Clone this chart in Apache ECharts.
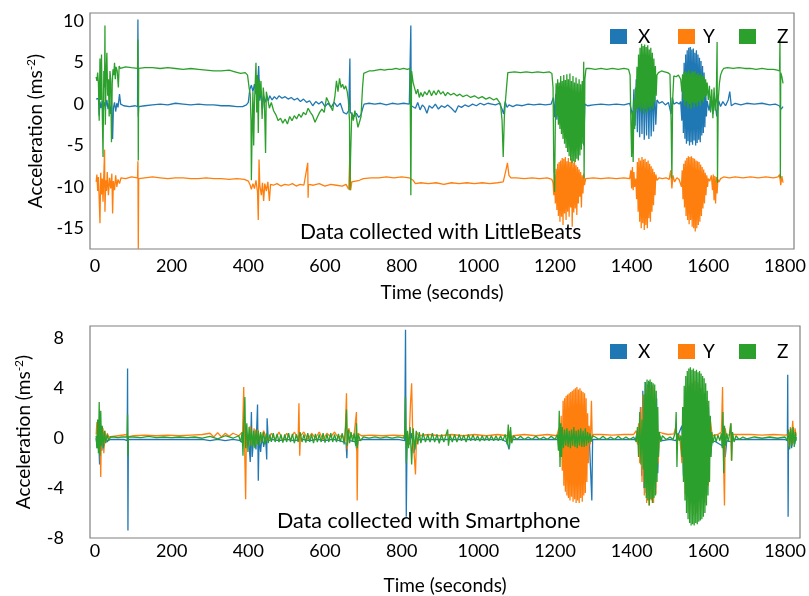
<!DOCTYPE html>
<html>
<head>
<meta charset="utf-8">
<script src="https://cdn.jsdelivr.net/npm/echarts@6.0.0/dist/echarts.min.js"></script>
<style>
  html, body { margin: 0; padding: 0; background: #fff; }
  #main { width: 809px; height: 596px; }
</style>
</head>
<body>
<div id="main"></div>
<script>
// tick labels
var timeTicks = [0, 200, 400, 600, 800, 1000, 1200, 1400, 1600, 1800];
var lbTicks = [-15, -10, -5, 0, 5, 10];
var spTicks = [-8, -4, 0, 4, 8];

// LittleBeats, [time (s), acceleration]
var lbX = [[3,0.6],[6,0.4],[9,0.7],[11,-1.4],[13,0.3],[16,-0.5],[19,0.4],[22,-0.8],[25,0.2],[28,-0.3],[31,0.5],[34,-0.6],[37,0.1],[40,-1.2],[43,0.3],[46,-4.2],[48,-0.5],[51,0.2],[54,-0.9],[57,0.1],[60,-0.4],[64,1.2],[67,0.0],
  [75,-0.2],[90,-0.3],[105,-0.2],[111,-0.3],[112,10.2],[113,-1.5],[114,-0.3],[130,-0.2],[150,-0.1],[170,0.0],[190,-0.1],[210,0.1],[230,0.0],[250,-0.1],[270,0.0],[290,-0.1],[310,-0.1],[330,-0.2],[350,-0.2],[370,-0.3],[385,-0.3],[395,-0.1],[400,0.2],
  [404,1.8],[408,2.3],[412,1.5],[416,2.4],[420,1.2],[424,2.0],[427,4.6],[430,0.4],[433,1.6],[437,-0.6],[440,1.0],[444,0.2],[448,0.9],[452,0.4],[456,1.0],[462,0.5],[468,0.9],[474,0.6],[480,1.0],[488,0.7],[496,0.9],[504,0.6],[512,0.8],[520,0.5],[528,0.7],[536,0.3],[544,0.6],[552,0.2],[560,0.4],[568,-0.2],[576,0.3],[584,0.0],[592,0.3],[600,-0.3],[608,0.1],[616,-0.4],[624,0.2],[632,-0.3],[640,0.1],[648,-1.0],[656,-1.2],[662,-0.8],[665,5.5],[666,-1.0],[670,-1.2],[676,-1.5],[682,-1.1],[688,-1.6],[694,-1.3],[698,-0.6],
  [702,0.0],[715,0.1],[730,0.0],[745,0.1],[760,-0.1],[775,0.1],[790,0.0],[805,0.1],[820,0.0],[824,9.5],[825,-0.2],[830,0.0],[836,-0.5],[842,0.2],[848,-0.7],[854,-0.1],[860,-0.4],[866,-1.1],[872,-0.2],[880,-0.5],[888,0.0],[896,-0.6],[904,-0.2],[912,-0.4],[920,-0.1],[930,-0.5],[940,-1.0],[948,-0.2],[956,-0.4],[965,-0.1],[975,-0.3],[985,0.0],[995,-0.2],[1005,0.1],[1015,-0.1],[1025,0.1],[1035,0.0],[1045,-0.1],[1055,0.1],[1062,-0.6],[1066,-1.2],[1070,0.3],[1075,-0.4],[1080,-0.1],[1090,-0.3],[1100,-0.1],[1115,-0.2],[1130,0.0],[1145,-0.1],[1160,0.0],[1175,-0.1],[1190,0.0],
  [1196,0.8],[1199,-1.6],[1202,1.2],[1205,-1.9],[1208,0.9],[1211,-2.3],[1214,0.4],[1218,-1.5],[1222,0.6],[1226,-1.0],[1230,0.8],[1234,-0.9],[1238,0.5],[1242,-1.2],[1246,0.6],[1250,-0.8],[1254,0.4],[1258,-1.1],[1262,0.5],[1266,-0.7],[1270,0.3],[1275,-5.0],[1278,0.0],
  [1285,-0.2],[1300,-0.1],[1320,0.0],[1340,-0.1],[1360,0.0],[1380,-0.1],[1395,0.1],
  [1400,0.2],[1403,-1.5],[1406,1.8],[1409,-2.6],[1412,3.0],[1415,-3.4],[1418,3.5],[1421,-4.0],[1424,3.8],[1427,-3.6],[1430,4.2],[1433,-4.3],[1436,3.6],[1439,-3.8],[1442,4.0],[1445,-4.2],[1448,3.4],[1451,-3.9],[1454,3.0],[1457,-3.3],[1460,2.4],[1463,-2.5],[1466,0.5],
  [1472,0.1],[1480,0.3],[1488,-0.1],[1496,0.2],[1503,-1.2],[1506,0.8],[1510,0.0],[1518,0.2],[1524,0.0],
  [1528,0.3],[1531,-2.0],[1533,3.5],[1535,-3.5],[1537,5.0],[1539,-4.2],[1541,6.0],[1543,-4.8],[1545,6.5],[1547,-4.5],[1549,6.8],[1551,-5.0],[1553,6.9],[1555,-4.6],[1557,6.6],[1559,-4.9],[1561,6.7],[1563,-4.4],[1565,6.2],[1567,-5.0],[1569,6.5],[1571,-4.7],[1573,6.0],[1575,-4.3],[1577,5.6],[1579,-4.6],[1581,5.2],[1583,-3.8],[1585,4.6],[1587,-3.5],[1589,3.8],[1591,-2.8],[1593,2.5],[1595,-1.5],[1597,0.4],
  [1602,-0.8],[1607,0.9],[1612,-1.2],[1617,0.6],[1622,-1.5],[1627,0.4],[1632,-0.3],[1638,0.3],[1645,-0.2],[1652,0.5],[1656,1.5],[1660,-0.2],[1670,0.1],[1685,-0.1],[1700,0.1],[1720,0.0],[1740,0.1],[1760,-0.1],[1775,0.0],[1785,-0.2],[1790,-0.6],[1795,-0.3]];

var lbY = [[3,-9.4],[5,-8.5],[7,-10.5],[9,-8.8],[11,-11.5],[13,-14.4],[15,-8.3],[17,-10.9],[19,-9.0],[21,-11.8],[23,-8.6],[25,-5.5],[26,-13.0],[28,-9.2],[30,-10.5],[32,-8.2],[35,-11.0],[38,-8.9],[41,-10.2],[44,-8.4],[46,-13.2],[48,-9.3],[51,-10.4],[54,-8.6],[57,-10.0],[60,-9.1],[64,-9.6],[68,-8.9],
  [80,-9.0],[95,-8.8],[111,-8.9],[112,-6.9],[113,-17.5],[114,-9.0],[130,-8.9],[150,-8.8],[170,-8.9],[190,-9.0],[210,-8.9],[230,-8.9],[250,-9.0],[270,-9.0],[290,-8.9],[310,-9.0],[330,-9.0],[350,-9.1],[370,-9.0],[390,-9.1],[400,-9.3],
  [405,-9.8],[408,-10.3],[412,-9.6],[416,-10.2],[420,-9.2],[424,-10.6],[426,-14.0],[428,-6.7],[430,-9.8],[434,-11.0],[437,-9.5],[440,-11.7],[443,-9.6],[447,-10.5],[451,-9.4],[455,-11.7],[458,-9.7],[465,-9.8],[475,-9.6],[485,-9.9],[495,-9.7],[505,-9.8],[515,-9.6],[525,-9.9],[535,-9.7],[545,-9.8],[555,-7.1],[556,-11.3],[557,-9.7],[570,-9.8],[585,-9.6],[600,-9.9],[615,-9.7],[630,-9.8],[645,-9.9],[655,-9.7],[662,-10.3],[665,-5.9],[667,-10.4],[670,-9.4],[680,-9.3],[690,-9.2],
  [700,-9.0],[720,-8.9],[740,-8.9],[760,-8.8],[780,-8.9],[800,-8.8],[820,-8.9],[830,-9.2],[836,-9.6],[850,-9.5],[870,-9.6],[890,-9.5],[910,-9.7],[930,-9.5],[950,-9.6],[970,-9.5],[990,-9.6],[1010,-9.5],[1030,-9.6],[1050,-9.5],[1065,-9.4],[1072,-8.0],[1076,-7.1],[1080,-8.6],[1085,-8.9],[1100,-8.9],[1120,-9.0],[1140,-8.9],[1160,-9.0],[1180,-8.9],[1192,-9.1],
  [1195,-9.5],[1197,-11.0],[1199,-8.5],[1201,-12.0],[1203,-7.8],[1205,-12.8],[1207,-7.2],[1209,-13.5],[1211,-7.0],[1213,-14.2],[1215,-6.8],[1217,-13.6],[1219,-6.5],[1221,-14.6],[1223,-6.6],[1225,-13.2],[1227,-6.4],[1229,-14.0],[1231,-6.9],[1233,-13.0],[1235,-6.5],[1237,-13.6],[1239,-7.0],[1241,-12.5],[1243,-6.6],[1245,-14.8],[1247,-7.1],[1249,-13.1],[1251,-6.8],[1253,-12.6],[1255,-7.4],[1257,-13.4],[1259,-7.6],[1261,-12.0],[1263,-7.9],[1265,-11.2],[1267,-8.2],[1269,-12.5],[1271,-8.6],[1273,-10.8],[1275,-8.4],[1277,-9.8],
  [1280,-9.0],[1300,-8.9],[1320,-9.0],[1340,-8.9],[1360,-9.0],[1380,-8.9],[1395,-9.0],
  [1398,-8.0],[1400,-10.2],[1402,-7.6],[1404,-10.4],[1406,-8.2],[1408,-10.0],[1411,-9.0],[1413,-11.5],[1415,-7.0],[1417,-13.0],[1419,-6.5],[1421,-14.2],[1423,-6.8],[1425,-15.0],[1427,-6.4],[1429,-14.4],[1431,-6.7],[1433,-15.2],[1435,-6.6],[1437,-14.6],[1439,-7.0],[1441,-15.0],[1443,-6.8],[1445,-13.8],[1447,-7.2],[1449,-14.2],[1451,-7.5],[1453,-13.0],[1455,-7.8],[1457,-12.2],[1459,-8.2],[1461,-11.0],[1463,-8.5],[1466,-9.2],
  [1472,-8.9],[1480,-9.0],[1490,-8.9],[1498,-9.1],[1502,-8.0],[1505,-10.2],[1508,-8.6],[1512,-9.4],[1518,-8.9],[1524,-9.1],[1528,-9.0],
  [1530,-10.0],[1532,-8.0],[1534,-11.5],[1536,-7.2],[1538,-12.5],[1540,-6.8],[1542,-13.5],[1544,-6.5],[1546,-14.0],[1548,-6.3],[1550,-14.5],[1552,-6.4],[1554,-14.0],[1556,-6.3],[1558,-14.8],[1560,-6.5],[1562,-15.0],[1564,-6.6],[1566,-15.4],[1568,-6.8],[1570,-15.0],[1572,-6.9],[1574,-14.6],[1576,-7.0],[1578,-14.2],[1580,-7.3],[1582,-13.5],[1584,-7.6],[1586,-12.6],[1588,-7.9],[1590,-12.0],[1592,-8.3],[1594,-11.0],[1596,-8.6],[1598,-10.0],[1600,-9.0],
  [1604,-9.3],[1608,-8.6],[1611,-10.4],[1613,-8.5],[1615,-11.6],[1617,-8.7],[1619,-12.0],[1621,-8.8],[1623,-10.8],[1625,-9.1],[1628,-9.4],[1632,-9.0],[1640,-8.8],[1655,-8.9],[1670,-8.8],[1690,-8.9],[1710,-8.8],[1730,-8.9],[1750,-8.8],[1770,-8.9],[1782,-8.8],[1786,-8.5],[1789,-9.8],[1792,-8.7],[1795,-9.5]];

var lbZ = [[3,3.3],[5,2.8],[7,3.8],[9,2.5],[11,-2.0],[13,5.5],[15,0.5],[17,6.0],[19,-1.0],[21,-6.4],[23,4.0],[25,2.0],[26,9.5],[27,-2.5],[29,3.5],[31,6.2],[33,1.0],[35,3.0],[37,-1.5],[39,4.0],[41,3.0],[43,-4.6],[45,2.5],[47,4.2],[49,3.5],[51,5.0],[53,3.0],[55,4.5],[58,4.0],[61,2.0],[63,4.6],[66,4.3],
  [70,4.4],[80,4.5],[95,4.4],[111,4.3],[112,7.8],[113,-6.8],[114,4.3],[130,4.4],[150,4.4],[170,4.3],[190,4.4],[210,4.3],[230,4.2],[250,4.3],[270,4.2],[290,4.1],[310,4.0],[330,4.0],[350,4.1],[365,3.9],[380,3.7],[392,3.8],[398,3.5],
  [402,2.0],[405,1.2],[407,-2.0],[408,-9.2],[410,-3.0],[412,1.5],[414,-5.0],[416,0.0],[418,2.5],[420,5.0],[422,-1.0],[424,3.5],[426,-3.5],[428,3.0],[430,1.0],[433,2.8],[436,-1.8],[439,2.0],[442,0.5],[445,-5.9],[447,1.5],[450,0.8],[455,-0.5],[460,0.2],[466,-0.8],[472,-1.3],[478,-2.0],[484,-1.7],[490,-2.3],[496,-1.8],[502,-2.4],[508,-1.5],[514,-2.0],[520,-1.4],[526,-1.8],[532,-1.2],[538,-1.6],[544,-1.0],[550,-1.3],[556,-0.5],[562,-1.0],[568,-1.4],[574,-2.2],[580,-1.6],[586,-1.0],[592,-0.6],[598,-1.0],[604,0.8],[610,0.2],[616,-0.4],
  [620,-0.8],[626,1.0],[630,2.8],[634,1.5],[638,3.1],[642,2.0],[646,2.4],[650,1.8],[654,2.2],[658,1.5],[661,0.5],[664,-2.0],[665,-10.4],[667,-5.9],[670,-1.0],[674,-2.0],[678,-0.8],[682,-1.7],[686,-2.8],[690,-2.2],[694,-1.5],[698,2.0],
  [701,3.7],[706,3.9],[715,4.0],[725,4.0],[735,4.1],[745,4.2],[755,4.1],[765,4.2],[775,4.2],[785,4.3],[795,4.2],[805,4.3],[815,4.2],[822,4.3],[824,-11.0],[826,4.0],[830,2.6],[834,1.9],[838,1.2],[842,1.8],[846,0.8],[850,1.4],[855,0.9],[860,1.5],[866,1.1],[872,1.7],[878,1.0],[884,1.6],[890,1.1],[896,1.7],[902,1.2],[908,1.5],[914,1.0],[920,1.4],[928,1.1],[936,1.3],[944,1.0],[952,1.2],[960,0.9],[970,1.1],[980,0.8],[990,1.0],[1000,0.7],[1010,0.9],[1020,0.6],[1030,0.8],[1040,0.5],[1048,0.7],[1054,0.3],[1058,0.0],[1062,-2.0],[1065,-6.4],[1068,-1.5],[1071,0.5],[1074,2.2],[1077,3.8],
  [1082,3.9],[1095,3.9],[1110,3.8],[1125,3.9],[1140,3.8],[1155,3.9],[1170,3.8],[1185,3.9],[1192,3.7],
  [1195,2.0],[1197,-8.0],[1199,-10.6],[1201,-2.0],[1203,2.5],[1205,-1.5],[1207,3.0],[1209,-2.5],[1211,2.6],[1213,-3.0],[1215,3.4],[1217,-3.6],[1219,2.8],[1221,-4.2],[1223,3.5],[1225,-4.8],[1227,2.9],[1229,-5.3],[1231,3.6],[1233,-5.8],[1235,3.0],[1237,-6.3],[1239,3.7],[1241,-6.8],[1243,2.8],[1245,-7.1],[1247,3.4],[1249,-6.9],[1251,2.6],[1253,-7.0],[1255,3.2],[1257,-6.6],[1259,2.5],[1261,-6.8],[1263,3.0],[1265,-6.2],[1267,2.4],[1269,-5.5],[1271,2.8],[1273,-4.8],[1275,5.1],[1276,-9.0],[1278,3.0],
  [1281,4.3],[1290,4.3],[1305,4.2],[1320,4.3],[1335,4.2],[1350,4.3],[1365,4.2],[1380,4.3],[1392,4.2],
  [1396,3.5],[1398,-2.0],[1400,-6.4],[1402,-1.0],[1404,-7.0],[1406,0.5],[1408,-3.0],[1410,2.0],[1412,-0.5],[1414,4.5],[1416,-0.8],[1418,6.0],[1420,-0.4],[1422,6.8],[1424,-0.9],[1426,7.3],[1428,-0.5],[1430,7.0],[1432,-1.2],[1434,7.2],[1436,-0.6],[1438,6.9],[1440,-1.0],[1442,7.1],[1444,-0.4],[1446,6.6],[1448,-0.8],[1450,6.8],[1452,-0.3],[1454,6.2],[1456,-0.6],[1458,5.5],[1460,0.2],[1462,4.6],[1464,1.0],[1466,3.5],
  [1470,3.8],[1478,4.0],[1486,3.9],[1494,3.8],[1500,3.6],[1503,-2.0],[1505,-9.0],[1507,0.5],[1510,3.4],[1516,3.3],[1522,3.5],[1528,3.0],
  [1531,1.5],[1533,3.6],[1535,0.4],[1537,3.9],[1539,-0.2],[1541,4.0],[1543,0.3],[1545,3.8],[1547,-0.5],[1549,4.1],[1551,0.0],[1553,3.7],[1555,-0.6],[1557,4.0],[1559,0.2],[1561,3.9],[1563,-0.4],[1565,4.0],[1567,0.1],[1569,3.6],[1571,-0.3],[1573,3.8],[1575,0.3],[1577,3.5],[1579,-0.2],[1581,3.7],[1583,0.5],[1585,3.4],[1587,0.2],[1589,3.3],[1591,0.8],[1593,3.0],[1595,1.0],[1597,2.6],
  [1600,0.5],[1603,2.2],[1606,-1.0],[1609,1.8],[1612,-1.7],[1615,2.0],[1618,-0.8],[1621,1.0],[1623,7.5],[1624,-9.5],[1626,0.5],[1629,2.5],[1632,3.5],[1636,4.0],[1640,4.3],[1650,4.4],[1665,4.3],[1680,4.4],[1695,4.3],[1710,4.3],[1725,4.2],[1740,4.3],[1755,4.2],[1770,4.2],[1780,4.1],[1786,4.0],[1787,7.8],[1788,-9.0],[1789,3.8],[1792,3.3],[1795,2.5]];

// Smartphone, [time (s), acceleration]
var spX = [[3,0.0],[6,-0.8],[9,0.6],[12,-2.1],[15,0.4],[18,-1.0],[21,0.5],[24,-0.6],[28,0.2],[32,-0.3],[36,-0.1],[45,-0.1],[60,-0.1],[75,-0.1],[84,-0.2],[85,5.6],[86,-7.4],[87,-0.1],
  [100,-0.1],[130,-0.1],[160,-0.1],[190,-0.1],[220,-0.1],[250,-0.1],[280,-0.1],[300,-0.2],[320,-0.1],[340,-0.2],[360,-0.1],[380,-0.2],[386,-0.4],[390,0.5],[395,-0.8],[400,0.3],[405,-1.9],[408,2.1],[410,-1.5],[415,0.4],[420,-0.9],[424,2.7],[426,-3.4],[428,0.2],[432,-1.1],[436,0.3],[440,-0.7],[445,0.2],[448,-1.7],[449,1.6],[452,-0.2],
  [460,-0.1],[480,-0.2],[500,-0.1],[520,-0.2],[540,-0.1],[560,-0.2],[580,-0.1],[600,-0.2],[620,-0.1],[640,-0.2],[655,-0.4],[657,-1.6],[659,0.3],[665,-0.2],[680,-0.3],[683,-1.0],[686,-0.2],[700,-0.1],[730,-0.1],[760,-0.1],[790,-0.1],[808,-0.2],[810,8.7],[812,-6.3],[814,-0.1],[820,-0.5],[826,0.4],[832,-1.2],[838,-0.2],
  [850,-0.1],[880,-0.1],[910,-0.1],[940,-0.1],[970,-0.1],[1000,-0.1],[1030,-0.1],[1060,-0.1],[1075,-0.3],[1080,-0.9],[1084,0.2],[1090,-0.1],[1120,-0.1],[1150,-0.1],[1180,-0.1],[1205,-0.1],[1213,0.4],[1216,-1.0],
  [1220,0.8],[1230,-0.9],[1240,0.7],[1250,-1.0],[1260,0.8],[1270,-0.9],[1280,0.6],[1290,-0.5],[1296,-5.0],[1298,-0.1],[1320,-0.1],[1350,-0.1],[1380,-0.1],[1410,-0.1],
  [1417,0.8],[1420,-1.5],[1423,2.5],[1426,-3.0],[1429,3.8],[1432,-4.0],[1435,4.5],[1438,-4.4],[1441,4.3],[1444,-4.6],[1447,4.5],[1450,-4.2],[1453,4.2],[1456,-4.5],[1459,3.9],[1462,-4.0],[1465,3.2],[1468,-2.8],[1471,0.3],[1480,-0.2],[1500,-0.1],[1515,-0.2],[1520,-0.1],
  [1531,1.0],[1535,-3.0],[1540,4.0],[1545,-4.5],[1550,4.2],[1555,-5.0],[1560,4.4],[1565,-5.2],[1570,4.5],[1575,-5.0],[1580,4.0],[1585,-4.6],[1590,3.6],[1595,-3.8],[1600,2.5],[1605,-1.5],[1610,-0.2],[1620,-0.3],[1636,-0.6],[1640,1.0],[1644,-1.5],[1648,-0.2],[1660,-0.3],[1665,-0.1],
  [1700,-0.1],[1740,-0.1],[1780,-0.1],[1800,-0.1],[1806,-0.2],[1807,5.1],[1808,-6.3],[1809,-0.2],[1813,0.5],[1817,-0.8],[1821,0.3],[1825,-0.5],[1829,0.1]];

var spY = [[3,0.3],[5,1.3],[7,-0.6],[9,0.9],[11,-1.0],[13,0.5],[15,-3.1],[17,1.0],[19,-0.5],[21,0.8],[23,-1.2],[26,0.6],[29,-0.3],[32,0.4],[36,0.1],[40,0.2],[60,0.2],[84,0.3],[86,0.1],
  [100,0.2],[130,0.25],[160,0.2],[190,0.25],[220,0.2],[250,0.25],[280,0.3],[300,0.4],[310,0.1],[320,0.45],[330,0.1],[340,0.4],[350,0.15],[360,0.4],[375,0.2],[385,0.5],[388,4.1],[390,-0.3],[393,-4.9],[395,0.6],[400,-0.4],[405,1.0],[410,-0.6],[415,0.8],[420,-0.5],[425,0.7],[430,-0.3],[440,0.6],[450,-0.2],
  [460,0.4],[470,-0.1],[480,0.5],[490,-0.2],[500,0.4],[510,-0.1],[520,0.5],[530,0.0],[532,2.8],[534,-1.4],[536,0.2],[545,0.5],[555,-0.1],[565,0.4],[575,0.0],[585,0.5],[595,-0.1],[605,0.4],[615,0.1],[625,0.5],[635,0.0],[645,0.3],[652,-0.3],[656,3.6],[658,-0.9],[662,0.8],[668,0.1],[676,0.3],[682,2.1],[684,-5.0],[686,0.4],[695,0.2],
  [720,0.25],[750,0.2],[780,0.25],[805,0.2],[815,0.5],[819,-0.5],[823,2.8],[826,4.4],[829,0.0],[832,-1.0],[836,-2.9],[839,0.5],[845,0.2],[870,0.3],[900,0.2],[930,0.3],[960,0.2],[990,0.3],[1020,0.2],[1050,0.3],[1075,0.2],[1080,0.6],[1085,-0.3],[1090,0.2],[1120,0.3],[1150,0.2],[1180,0.3],[1205,0.2],
  [1210,0.8],[1213,-1.5],[1216,1.8],[1219,-2.6],[1221,3.0],[1223,-3.8],[1225,3.2],[1227,-4.3],[1229,3.4],[1231,-4.6],[1233,3.5],[1235,-4.8],[1237,3.6],[1239,-5.0],[1241,3.7],[1243,-4.7],[1245,3.8],[1247,-5.1],[1249,3.9],[1251,-4.9],[1253,4.0],[1255,-5.2],[1257,4.1],[1259,-5.0],[1261,3.9],[1263,-5.2],[1265,4.0],[1267,-4.8],[1269,3.8],[1271,-5.1],[1273,3.7],[1275,-4.6],[1277,3.6],[1279,-4.4],[1281,3.2],[1283,-3.5],[1285,2.0],[1287,-2.0],[1289,1.0],[1292,-0.5],[1295,3.0],[1297,0.0],[1300,0.3],
  [1320,0.3],[1350,0.25],[1380,0.3],[1405,0.3],[1412,0.6],[1415,-0.5],
  [1418,1.2],[1421,-2.0],[1424,2.5],[1427,-3.5],[1430,3.5],[1433,-4.6],[1436,4.0],[1439,-5.2],[1442,4.2],[1445,-5.4],[1448,4.0],[1451,-5.0],[1454,4.2],[1457,-5.2],[1460,3.6],[1463,-4.5],[1466,2.5],[1469,-2.0],[1472,0.5],[1480,0.4],[1495,0.3],[1510,0.35],[1516,1.0],[1518,-0.3],[1525,0.3],
  [1531,-2.0],[1535,2.5],[1540,-4.5],[1545,4.0],[1550,-6.0],[1555,4.5],[1560,-6.2],[1565,4.6],[1570,-6.0],[1575,4.4],[1580,-5.8],[1585,4.0],[1590,-5.2],[1595,3.0],[1600,-3.8],[1605,1.5],[1610,0.2],[1625,0.3],[1634,0.5],[1637,4.1],[1639,-1.0],[1642,-5.4],[1644,0.8],[1647,0.2],[1655,0.3],[1658,1.2],[1660,-1.8],[1662,0.3],
  [1680,0.3],[1710,0.3],[1740,0.25],[1770,0.3],[1800,0.25],[1808,0.3],[1811,-0.7],[1814,0.9],[1817,-0.5],[1820,1.4],[1823,-0.4],[1826,0.8],[1829,0.2]];

var spZ = [[3,0.2],[5,-0.8],[7,1.5],[9,-1.2],[11,2.9],[13,-1.4],[15,2.2],[17,-0.6],[19,1.0],[22,-0.8],[25,0.6],[28,-0.4],[32,0.3],[36,-0.2],[40,0.1],[50,0.1],[60,0.05],[70,0.1],[84,0.1],[85,1.9],[86,-1.4],[87,0.1],
  [100,0.1],[120,0.05],[140,0.15],[160,0.05],[180,0.1],[200,0.05],[220,0.1],[240,0.05],[260,0.1],[280,0.0],[300,0.15],[320,-0.05],[340,0.2],[360,0.0],[375,0.2],[380,-0.3],[384,0.5],[386,-1.4],[388,1.0],[391,3.3],[393,-0.8],[396,1.2],[399,-1.1],[402,0.9],[405,-0.6],[408,0.8],[411,-0.7],[414,0.6],[417,-0.8],[420,0.7],[423,-0.5],[426,0.6],[429,-0.6],[432,0.5],[436,-0.4],[440,0.5],[444,-0.5],[448,0.4],[452,-0.4],[456,0.3],
  [460,-0.3],[465,0.4],[470,-0.3],[475,0.35],[480,-0.3],[485,0.3],[490,-0.35],[495,0.3],[500,-0.3],[505,0.4],[510,-0.3],[515,0.35],[520,-0.4],[525,0.3],[530,-0.3],[535,0.5],[540,-0.3],[545,0.3],[550,-0.35],[555,0.4],[560,-0.3],[565,0.3],[570,-0.4],[575,0.35],[580,-0.3],[585,0.3],[590,-0.3],[595,0.4],[600,-0.35],[605,0.3],[610,-0.3],[615,0.4],[620,-0.3],[625,0.3],[630,-0.3],[635,0.35],[640,-0.3],[645,0.4],[650,-0.5],[654,1.0],[656,2.3],[658,-0.6],[661,0.7],[664,-0.4],[668,0.5],[672,-0.3],[676,0.4],[680,-0.6],[682,1.2],[684,-0.8],[687,0.3],[692,-0.2],
  [700,0.1],[715,0.0],[730,0.1],[745,0.0],[760,0.1],[775,0.0],[790,0.1],[805,0.0],[808,0.3],[810,3.3],[812,-2.0],[815,0.6],[818,-0.8],[822,0.9],[826,-2.1],[830,0.8],[834,-0.9],[838,0.6],[842,-0.5],[846,0.5],[850,-0.4],[856,0.4],[862,-0.3],[868,0.3],[874,-0.3],[880,0.4],[886,-0.3],[892,0.3],[898,-0.4],[904,0.3],[910,-0.3],[916,0.3],[920,0.7],[922,-0.6],[926,0.3],[932,-0.3],[938,0.3],[944,-0.3],[950,0.3],[956,-0.2],[962,0.25],[968,-0.3],[974,0.3],[980,-0.2],[986,0.25],[992,-0.2],[998,0.2],[1004,-0.25],[1010,0.2],[1016,-0.2],[1022,0.2],[1028,-0.2],[1034,0.2],[1040,-0.2],[1046,0.2],[1052,-0.2],[1058,0.2],[1064,-0.2],[1070,0.3],[1075,-0.5],[1078,1.1],[1081,-0.8],[1084,0.9],[1087,-0.4],[1092,0.2],
  [1100,-0.1],[1110,0.15],[1120,-0.1],[1130,0.1],[1140,-0.1],[1150,0.15],[1160,-0.1],[1170,0.1],[1180,-0.1],[1190,0.15],[1200,-0.1],[1206,0.3],[1209,-1.0],[1211,2.2],[1213,-2.3],[1215,1.2],[1217,-1.5],[1219,0.9],
  [1222,-0.8],[1225,0.7],[1228,-0.6],[1231,0.8],[1234,-0.7],[1237,0.6],[1240,-0.8],[1243,0.7],[1246,-0.6],[1249,0.9],[1252,-0.7],[1255,0.6],[1258,-0.8],[1261,0.7],[1264,-0.6],[1267,0.8],[1270,-0.7],[1273,0.6],[1276,-0.7],[1279,0.8],[1282,-0.6],[1285,0.5],[1288,-0.4],[1291,0.4],[1294,-0.3],[1297,0.2],
  [1305,0.1],[1315,-0.1],[1325,0.15],[1335,-0.1],[1345,0.1],[1355,-0.1],[1365,0.15],[1375,-0.1],[1385,0.1],[1395,-0.1],[1405,0.1],[1412,-0.3],[1415,0.9],[1418,-1.5],[1421,2.1],[1424,-2.1],[1427,1.5],[1430,-2.5],
  [1432,3.5],[1434,-4.0],[1436,4.5],[1438,-4.8],[1440,4.7],[1442,-5.0],[1444,4.6],[1446,-5.4],[1448,4.7],[1450,-4.9],[1452,4.5],[1454,-5.2],[1456,4.4],[1458,-4.8],[1460,4.3],[1462,-4.6],[1464,3.8],[1466,-3.5],[1468,2.5],[1470,-1.5],[1472,0.5],[1476,-0.3],[1480,0.2],[1490,-0.1],[1500,0.1],[1508,-0.1],[1514,0.5],[1516,2.1],[1518,-2.3],[1520,0.4],[1524,-0.2],[1528,0.2],
  [1531,-1.5],[1533,2.5],[1535,-3.5],[1537,4.2],[1539,-5.0],[1541,5.0],[1543,-6.0],[1545,5.4],[1547,-6.5],[1549,5.6],[1551,-6.8],[1553,5.7],[1555,-7.0],[1557,5.5],[1559,-6.9],[1561,5.6],[1563,-7.0],[1565,5.4],[1567,-6.8],[1569,5.5],[1571,-6.9],[1573,5.3],[1575,-6.7],[1577,5.4],[1579,-6.6],[1581,5.2],[1583,-6.5],[1585,5.0],[1587,-6.3],[1589,4.8],[1591,-6.0],[1593,4.4],[1595,-5.4],[1597,3.8],[1599,-4.6],[1601,3.0],[1603,-3.5],[1605,1.8],[1607,-1.5],[1609,0.5],
  [1612,-0.4],[1616,0.3],[1620,-0.3],[1625,0.25],[1630,-0.2],[1634,0.4],[1636,-0.8],[1638,2.1],[1640,-2.8],[1642,1.0],[1645,-0.6],[1648,0.4],[1652,-0.3],[1656,0.5],[1659,1.2],[1661,-1.8],[1663,0.5],[1667,-0.3],[1672,0.2],
  [1680,-0.1],[1690,0.1],[1700,-0.05],[1720,0.1],[1740,0.0],[1760,0.1],[1780,0.0],[1800,0.1],[1806,-0.2],[1809,0.7],[1812,-0.9],[1815,0.8],[1818,-0.6],[1821,0.9],[1824,-0.7],[1827,0.5],[1829,-0.2]];

var colors = ['#1f77b4', '#ff7f0e', '#2ca02c'];
var font = 'Lato, "Open Sans", sans-serif';

function line(name, data, idx, color) {
  return {
    name: name, type: 'line', data: data,
    xAxisIndex: idx, yAxisIndex: idx,
    showSymbol: false, sampling: false,
    lineStyle: { width: 1.3, color: color },
    itemStyle: { color: color },
    z: 2
  };
}

function legendItem(name, left, top, pad) {
  return {
    data: [name], left: left, top: top,
    icon: 'rect', itemWidth: 17, itemHeight: 15,
    selectedMode: false,
    textStyle: { fontFamily: font, fontSize: 19, color: '#000', padding: [0, 0, 0, pad] }
  };
}

var tickText = { fontFamily: font, fontSize: 18, color: '#000', formatter: function (v) { return String(v); } };
var nameText = { fontFamily: font, fontSize: 19, color: '#000' };
var supText = { fontFamily: font, fontSize: 12, color: '#000', padding: [0, 0, 9, 0] };

var myChart = echarts.init(document.getElementById('main'));
var option = {
  animation: false,
  backgroundColor: '#fff',
  color: colors,
  grid: [
    { left: 90, top: 13, width: 704, height: 236, show: true, borderColor: '#808080', borderWidth: 1.2, backgroundColor: 'transparent' },
    { left: 90, top: 326, width: 710, height: 213, show: true, borderColor: '#808080', borderWidth: 1.2, backgroundColor: 'transparent' }
  ],
  xAxis: [
    { type: 'value', gridIndex: 0, min: -13, max: 1823.6,
      axisLine: { show: false }, axisTick: { show: false }, splitLine: { show: false },
      axisLabel: Object.assign({ customValues: timeTicks, margin: 8 }, tickText),
      name: 'Time (seconds)', nameLocation: 'middle', nameGap: 34,
      nameTextStyle: nameText },
    { type: 'value', gridIndex: 1, min: -13, max: 1839,
      axisLine: { show: false }, axisTick: { show: false }, splitLine: { show: false },
      axisLabel: Object.assign({ customValues: timeTicks, margin: 4 }, tickText),
      name: 'Time (seconds)', nameLocation: 'middle', nameGap: 38,
      nameTextStyle: nameText }
  ],
  yAxis: [
    { type: 'value', gridIndex: 0, min: -17.5, max: 11,
      axisLine: { show: false }, axisTick: { show: false }, splitLine: { show: false },
      axisLabel: Object.assign({ customValues: lbTicks, margin: 6 }, tickText),
      name: '{a|Acceleration (ms}{s|-2}{a|)}', nameLocation: 'middle', nameGap: 38, nameRotate: 90,
      nameTextStyle: { rich: { a: nameText, s: supText } } },
    { type: 'value', gridIndex: 1, min: -8, max: 9,
      axisLine: { show: false }, axisTick: { show: false }, splitLine: { show: false },
      axisLabel: Object.assign({ customValues: spTicks, margin: 26 }, tickText),
      name: '{a|Acceleration (ms}{s|-2}{a|)}', nameLocation: 'middle', nameGap: 56, nameRotate: 90,
      nameTextStyle: { rich: { a: nameText, s: supText } } }
  ],
  legend: [
    legendItem('X', 605, 22, 6), legendItem('Y', 673, 22, 3), legendItem('Z', 734, 22, 16),
    legendItem('X', 605, 337, 6), legendItem('Y', 673, 337, 3), legendItem('Z', 734, 337, 16)
  ],
  graphic: [
    { type: 'text', left: 300, top: 222, style: { text: 'Data collected with LittleBeats', font: '21px ' + font, fill: '#000' } },
    { type: 'text', left: 277, top: 510, style: { text: 'Data collected with Smartphone', font: '21.5px ' + font, fill: '#000' } }
  ],
  series: [
    line('X', lbX, 0, colors[0]), line('Y', lbY, 0, colors[1]), line('Z', lbZ, 0, colors[2]),
    line('X', spX, 1, colors[0]), line('Y', spY, 1, colors[1]), line('Z', spZ, 1, colors[2])
  ]
};
myChart.setOption(option);
</script>
</body>
</html>
